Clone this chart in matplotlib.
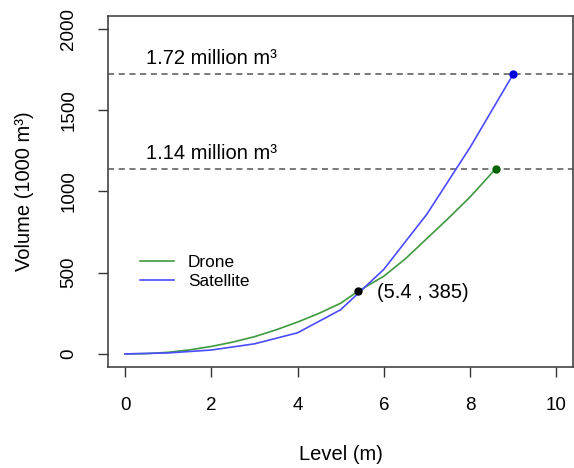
import matplotlib
matplotlib.use("Agg")
import matplotlib.pyplot as plt

plt.rcParams['font.family'] = ['Liberation Sans', 'DejaVu Sans']

# satellite survey: volume (1000 m3) per level (m)
sat_level = [0, 1, 2, 3, 4, 5, 6, 7, 8, 9]
sat_volume = [0, 6, 24, 62, 130, 272, 520, 860, 1270, 1720]

# drone survey
drone_level = [0, 0.5, 1, 1.5, 2, 2.5, 3, 3.5, 4, 4.5, 5, 5.4,
               6, 6.5, 7, 7.5, 8, 8.6]
drone_volume = [0, 2, 10, 25, 46, 73, 106, 148, 196, 250, 312, 385,
                478, 585, 710, 835, 965, 1140]

cross = (5.4, 385)
max_vols = [1720, 1140]
max_labels = ["1.72 million m³", "1.14 million m³"]

fig = plt.figure(figsize=(5.74, 4.68), dpi=100)
ax = fig.add_axes([0.188, 0.216, 0.811, 0.75])

for v, lab in zip(max_vols, max_labels):
    ax.axhline(v, color='#555555', lw=1.1, ls=(0, (4, 3)))
    ax.text(2, v + 95, lab, ha='center', va='center', fontsize=14.5)

ax.plot(drone_level, drone_volume, color='#3f9a3f', lw=1.2, label='Drone')
ax.plot(sat_level, sat_volume, color='#4b4bff', lw=1.2, label='Satellite')
ax.plot(drone_level[-1], drone_volume[-1], 'o', color='#006400', ms=5)
ax.plot(sat_level[-1], sat_volume[-1], 'o', color='#0000dd', ms=5)
ax.plot(*cross, 'o', color='black', ms=5)
ax.text(cross[0] + 0.45, cross[1] - 5, f"({cross[0]} , {cross[1]})",
        ha='left', va='center', fontsize=14.5)

ax.set_xlim(-0.4, 10.4)
ax.set_ylim(-80, 2080)
ax.set_xticks([0, 2, 4, 6, 8, 10])
ax.set_yticks([0, 500, 1000, 1500, 2000])
ax.set_yticklabels(['0', '500', '1000', '1500', '2000'], rotation=90, va='center')
ax.tick_params(length=7, width=1, colors='#333333', labelcolor='black',
               labelsize=13.5, pad=15)
for s in ax.spines.values():
    s.set_color('#444444')
    s.set_linewidth(1.2)

ax.set_xlabel("Level (m)", fontsize=14.5, labelpad=22)
ax.set_ylabel("Volume (1000 m³)", fontsize=14.5, labelpad=19)

ax.legend(loc='center left', bbox_to_anchor=(0.035, 0.27), frameon=False,
          fontsize=12.4, handlelength=2.0, handletextpad=0.8, labelspacing=0.2)

fig.savefig("out.png", dpi=100)
